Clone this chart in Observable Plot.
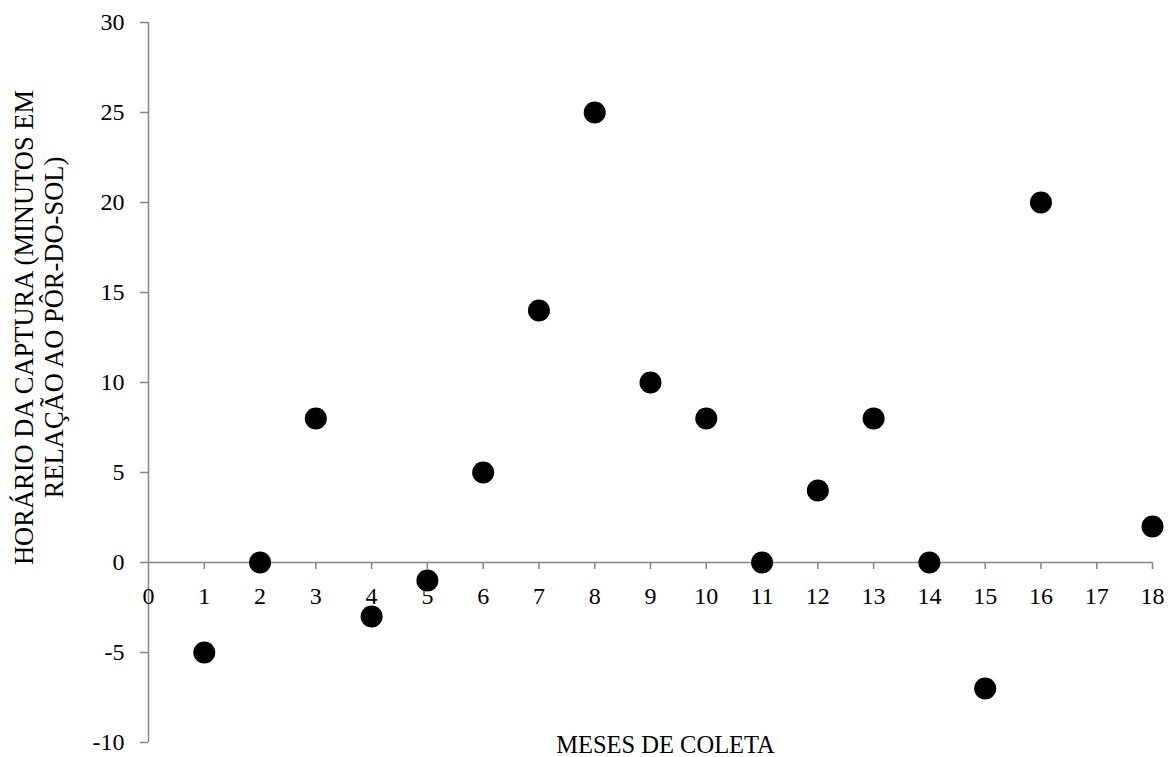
<!DOCTYPE html>
<html>
<head>
<meta charset="utf-8">
<script src="https://cdn.jsdelivr.net/npm/d3@7"></script>
<script src="https://cdn.jsdelivr.net/npm/@observablehq/plot@0.6"></script>
<style>
  html, body { margin: 0; padding: 0; background: #fff; }
  #chart svg { display: block; }
</style>
</head>
<body>
<div id="chart"></div>
<script>
const months = [1, 2, 3, 4, 5, 6, 7, 8, 9, 10, 11, 12, 13, 14, 15, 16, 17, 18];
const minutes = [-5, 0, 8, -3, -1, 5, 14, 25, 10, 8, 0, 4, 8, 0, -7, 20, null, 2];
const xTickValues = [0, 1, 2, 3, 4, 5, 6, 7, 8, 9, 10, 11, 12, 13, 14, 15, 16, 17, 18];
const yTickValues = [-10, -5, 0, 5, 10, 15, 20, 25, 30];
const xTitle = "MESES DE COLETA";
const yTitle = "HORÁRIO DA CAPTURA (MINUTOS EM\nRELAÇÃO AO PÔR-DO-SOL)";

const data = months.map((m, i) => ({month: m, value: minutes[i]})).filter(d => d.value != null);

const W = 1174, H = 757;
const mL = 148, mR = 22, mT = 22, mB = 15;
const font = "'Liberation Serif', 'Times New Roman', serif";
const tickFs = 24;
const xTitleFs = 24.5;
const yTitleFs = 26.5;
const axisColor = "#868686";
const pxPerUnitY = (H - mT - mB) / 40;
const tickLen = 7 / pxPerUnitY;

const chart = Plot.plot({
  width: W,
  height: H,
  marginLeft: mL,
  marginRight: mR,
  marginTop: mT,
  marginBottom: mB,
  style: {fontFamily: font, fontSize: tickFs + "px", color: "#000", background: "#fff"},
  x: {domain: [0, 18], axis: null},
  y: {domain: [-10, 30], axis: null},
  marks: [
    Plot.axisY({ticks: yTickValues, tickSize: 8, tickPadding: 16, stroke: axisColor, strokeWidth: 1.5, fill: "#000", label: null, fontSize: tickFs, tickFormat: d => String(d)}),
    Plot.ruleX([0], {stroke: axisColor, strokeWidth: 1.5}),
    Plot.ruleY([0], {stroke: axisColor, strokeWidth: 1.5}),
    Plot.ruleX(xTickValues.filter(d => d > 0), {x: d => d, y1: 0, y2: -tickLen, stroke: axisColor, strokeWidth: 1.5}),
    Plot.text(xTickValues, {x: d => d, y: 0, text: d => String(d), dy: 34, fontSize: tickFs, fill: "#000"}),
    Plot.dot(data, {x: "month", y: "value", r: 11, fill: "#000", stroke: "none"}),
    Plot.text([xTitle], {frameAnchor: "bottom", text: d => d, dx: 15, dy: 3, fontSize: xTitleFs, fill: "#000", lineAnchor: "middle"}),
    Plot.text([yTitle], {frameAnchor: "left", text: d => d, rotate: -90, dx: -110, dy: -55, fontSize: yTitleFs, fill: "#000", lineAnchor: "middle", textAnchor: "middle", lineHeight: 1.12})
  ]
});
document.getElementById("chart").appendChild(chart);
</script>
</body>
</html>
